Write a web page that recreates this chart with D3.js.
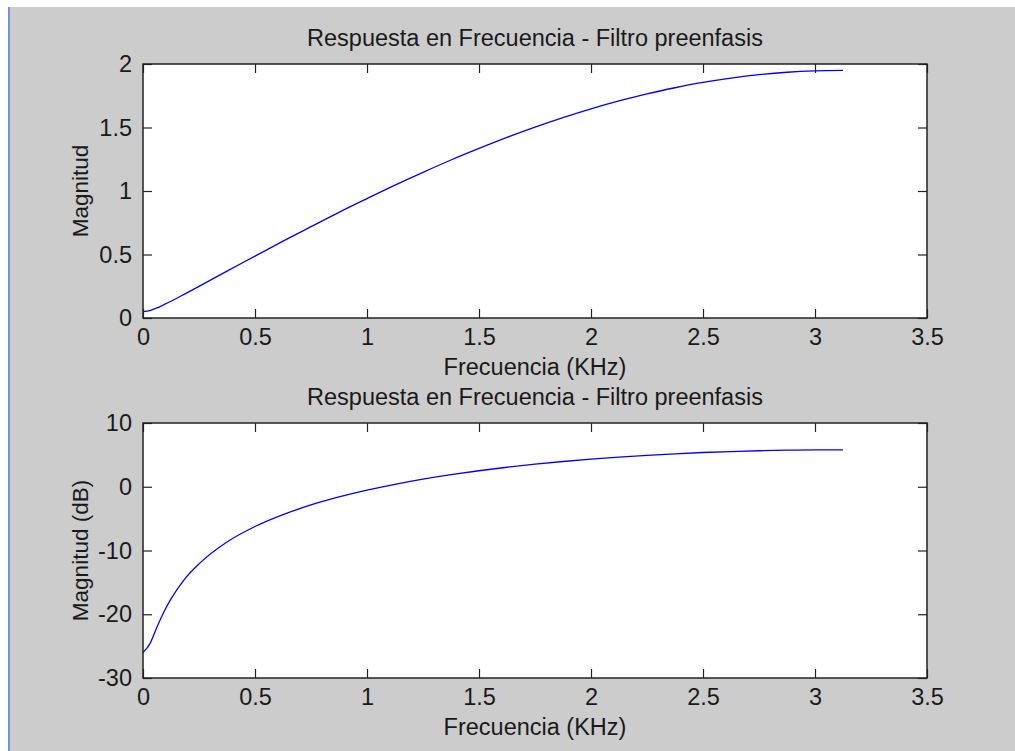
<!DOCTYPE html>
<html><head><meta charset="utf-8">
<script src="https://cdn.jsdelivr.net/npm/d3@7"></script>
<style>
html,body{margin:0;padding:0;background:#fff;}
svg{display:block;}
text{font-family:"Liberation Sans",Arial,Helvetica,sans-serif;fill:#1a1a1a;}
</style></head>
<body>
<svg id="c" width="1015" height="751"></svg>
<script>
// Frequency samples (kHz)
const freqKHz = [0,0.03125,0.0625,0.09375,0.125,0.1875,0.25,0.375,0.5,0.625,0.75,0.875,1.0,1.125,1.25,1.375,1.5,1.625,1.75,1.875,2.0,2.125,2.25,2.375,2.5,2.625,2.75,2.875,3.0,3.125];
// Magnitude (linear)
const magnitude = [0.050,0.059,0.079,0.105,0.132,0.190,0.249,0.369,0.487,0.605,0.719,0.832,0.940,1.046,1.147,1.244,1.335,1.422,1.503,1.578,1.647,1.709,1.765,1.813,1.855,1.889,1.916,1.935,1.946,1.950];
// Magnitude (dB)
const magnitudeDb = [-26.0,-24.6,-22.0,-19.6,-17.6,-14.4,-12.1,-8.67,-6.24,-4.37,-2.86,-1.60,-0.53,0.39,1.19,1.89,2.51,3.06,3.54,3.96,4.34,4.65,4.93,5.17,5.37,5.52,5.65,5.73,5.78,5.80];

const xTicks = [0,0.5,1,1.5,2,2.5,3,3.5];
const xTickLabels = ["0","0.5","1","1.5","2","2.5","3","3.5"];
const yTicksTop = [0,0.5,1,1.5,2];
const yTickLabelsTop = ["0","0.5","1","1.5","2"];
const yTicksBottom = [-30,-20,-10,0,10];
const yTickLabelsBottom = ["-30","-20","-10","0","10"];

const titleText = "Respuesta en Frecuencia - Filtro preenfasis";
const xLabelText = "Frecuencia (KHz)";
const yLabelTop = "Magnitud";
const yLabelBottom = "Magnitud (dB)";

const svg = d3.select("#c");
// figure background
svg.append("rect").attr("x",0).attr("y",0).attr("width",1015).attr("height",751).attr("fill","#ffffff");
svg.append("rect").attr("x",9).attr("y",7).attr("width",1006).attr("height",744).attr("fill","#cccccc");
svg.append("line").attr("x1",9).attr("x2",9).attr("y1",7).attr("y2",751).attr("stroke","#6f93d3").attr("stroke-width",2);

const FS = 23.5;   // horizontal text
const FSY = 22.5;  // rotated y labels
const left = 143, right = 927;

function panel(top, bottom, yDomain, yTicks, yLabels, ys, ylab) {
  const x = d3.scaleLinear().domain([0,3.5]).range([left,right]);
  const y = d3.scaleLinear().domain(yDomain).range([bottom,top]);
  const g = svg.append("g");
  g.append("rect").attr("x",left).attr("y",top).attr("width",right-left).attr("height",bottom-top).attr("fill","#ffffff");

  const line = d3.line().x((d,i)=>x(freqKHz[i])).y(d=>y(d)).curve(d3.curveMonotoneX);
  g.append("path").datum(ys).attr("d",line).attr("fill","none").attr("stroke","#0000ff").attr("stroke-width",1.3);

  const style = sel => {
    sel.select(".domain").remove();
    sel.selectAll(".tick line").attr("stroke","#222").attr("stroke-width",1.2);
    sel.selectAll(".tick text").style("font-size",FS+"px").attr("fill","#1a1a1a");
  };
  const fmtX = (d,i)=>xTickLabels[i];
  const fmtY = (d,i)=>yLabels[i];
  g.append("g").attr("transform",`translate(0,${bottom})`)
    .call(d3.axisBottom(x).tickValues(xTicks).tickFormat(fmtX).tickSizeInner(-9).tickSizeOuter(0).tickPadding(10)).call(style);
  g.append("g").attr("transform",`translate(0,${top})`)
    .call(d3.axisTop(x).tickValues(xTicks).tickFormat("").tickSizeInner(-9).tickSizeOuter(0)).call(style);
  g.append("g").attr("transform",`translate(${left},0)`)
    .call(d3.axisLeft(y).tickValues(yTicks).tickFormat(fmtY).tickSizeInner(-9).tickSizeOuter(0).tickPadding(11)).call(style);
  g.append("g").attr("transform",`translate(${right},0)`)
    .call(d3.axisRight(y).tickValues(yTicks).tickFormat("").tickSizeInner(-9).tickSizeOuter(0)).call(style);

  g.append("rect").attr("x",left).attr("y",top).attr("width",right-left).attr("height",bottom-top)
    .attr("fill","none").attr("stroke","#222").attr("stroke-width",1.5);

  g.append("text").attr("x",(left+right)/2).attr("y",top-18).attr("text-anchor","middle")
    .style("font-size",FS+"px").text(titleText);
  g.append("text").attr("x",(left+right)/2).attr("y",bottom+57).attr("text-anchor","middle")
    .style("font-size",FS+"px").text(xLabelText);
  g.append("text").attr("transform",`translate(88,${(top+bottom)/2}) rotate(-90)`).attr("text-anchor","middle")
    .style("font-size",FSY+"px").text(ylab);
}

panel(64, 318, [0,2], yTicksTop, yTickLabelsTop, magnitude, yLabelTop);
panel(423, 678, [-30,10], yTicksBottom, yTickLabelsBottom, magnitudeDb, yLabelBottom);
</script>
</body></html>
